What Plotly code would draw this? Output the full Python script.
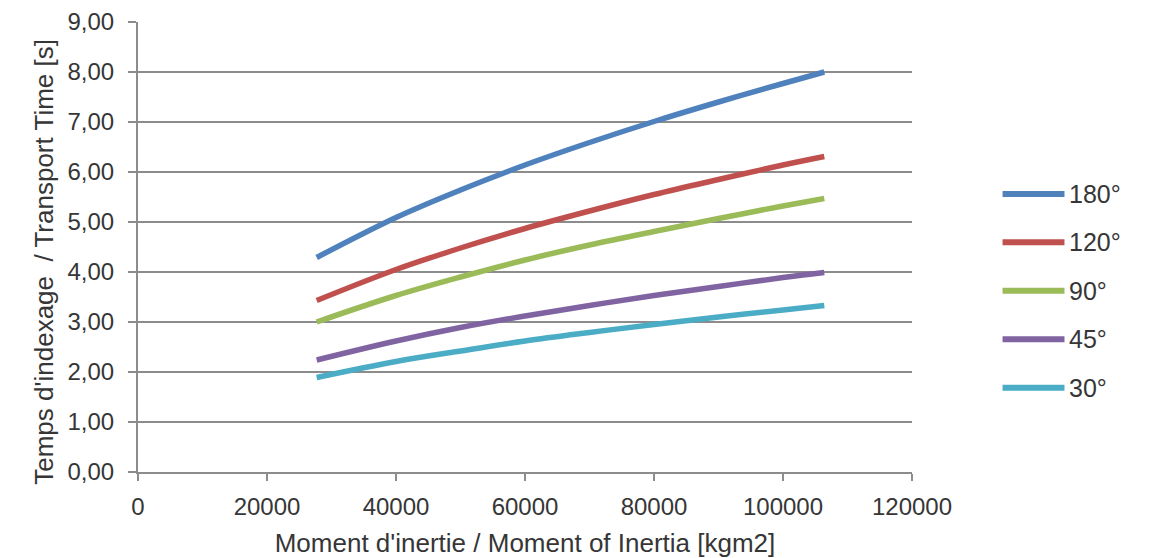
import plotly.graph_objects as go

# Moment of inertia (kgm2) at which indexing times were tabulated
inertia = [27700, 40000, 50000, 60000, 70000, 80000, 90000, 100000, 106400]

# Indexing / transport time in seconds for each indexing angle
time_180 = [4.29, 5.09, 5.64, 6.14, 6.59, 7.01, 7.40, 7.77, 8.00]
time_120 = [3.43, 4.05, 4.48, 4.87, 5.22, 5.55, 5.85, 6.14, 6.31]
time_90 = [3.00, 3.53, 3.90, 4.24, 4.54, 4.81, 5.07, 5.32, 5.47]
time_45 = [2.24, 2.62, 2.89, 3.12, 3.33, 3.53, 3.71, 3.89, 3.99]
time_30 = [1.89, 2.21, 2.42, 2.62, 2.79, 2.95, 3.10, 3.24, 3.33]

series_names = ["180°", "120°", "90°", "45°", "30°"]
series_values = [time_180, time_120, time_90, time_45, time_30]
series_colors = ["#4F81BD", "#C0504D", "#9BBB59", "#8064A2", "#4BACC6"]

x_tick_vals = [0, 20000, 40000, 60000, 80000, 100000, 120000]
x_tick_text = ["0", "20000", "40000", "60000", "80000", "100000", "120000"]
y_tick_vals = [0, 1, 2, 3, 4, 5, 6, 7, 8, 9]
y_tick_text = ["0,00", "1,00", "2,00", "3,00", "4,00", "5,00", "6,00", "7,00", "8,00", "9,00"]

x_title = "Moment d'inertie / Moment of Inertia [kgm2]"
y_title = "Temps d'indexage\u00a0 / Transport Time [s]"

FONT = "Liberation Sans, Arial, sans-serif"
TEXT = "#363636"
GRID = "#8c8c8c"
TICK_SIZE = 24
TITLE_SIZE = 26

fig = go.Figure()
for name, vals, color in zip(series_names, series_values, series_colors):
    fig.add_trace(go.Scatter(
        x=inertia, y=vals, name=name, mode="lines",
        line=dict(color=color, width=5.5, shape="spline", smoothing=1.0),
        showlegend=False,
    ))

# Legend drawn at the right of the plot area: a line sample and a label per series
legend_top = 0.618
legend_step = 0.1077
for i, (name, color) in enumerate(zip(series_names, series_colors)):
    yy = legend_top - i * legend_step
    fig.add_shape(type="line", xref="paper", yref="paper",
                  x0=1.117, x1=1.197, y0=yy, y1=yy,
                  line=dict(color=color, width=6))
    fig.add_annotation(xref="paper", yref="paper", x=1.200, y=yy,
                       text=name, showarrow=False, xanchor="left", yanchor="middle",
                       font=dict(family=FONT, size=25, color=TEXT))

# Vertical axis title, placed as rotated text beside the tick labels
fig.add_annotation(xref="paper", yref="paper", x=-0.121, y=0.468,
                   text=y_title, textangle=-90, showarrow=False,
                   xanchor="center", yanchor="middle",
                   font=dict(family=FONT, size=TITLE_SIZE, color=TEXT))

fig.update_layout(
    width=1155, height=558,
    margin=dict(l=138, r=243, t=22, b=86),
    paper_bgcolor="white", plot_bgcolor="white",
    font=dict(family=FONT, size=TICK_SIZE, color=TEXT),
    showlegend=False,
)
fig.update_xaxes(
    range=[0, 120000], tickvals=x_tick_vals, ticktext=x_tick_text,
    showgrid=False, zeroline=False,
    showline=True, linecolor=GRID, linewidth=2,
    ticks="outside", ticklen=7, tickwidth=2, tickcolor=GRID,
    ticklabelstandoff=5,
    tickfont=dict(family=FONT, size=TICK_SIZE, color=TEXT),
    title=dict(text=x_title,
               font=dict(family=FONT, size=TITLE_SIZE, color=TEXT), standoff=16),
    automargin=False,
)
fig.update_yaxes(
    range=[0, 9], tickvals=y_tick_vals, ticktext=y_tick_text,
    showgrid=True, gridcolor=GRID, gridwidth=2, zeroline=False,
    showline=True, linecolor=GRID, linewidth=2,
    ticks="outside", ticklen=8, tickwidth=2, tickcolor=GRID,
    ticklabelstandoff=9,
    tickfont=dict(family=FONT, size=TICK_SIZE, color=TEXT),
    automargin=False,
)

fig.write_html("out.html")
